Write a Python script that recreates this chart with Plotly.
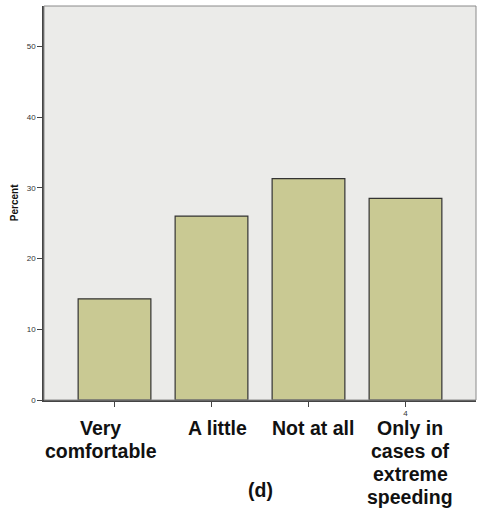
import plotly.graph_objects as go

categories = ["Very<br>comfortable", "A little", "Not at all", "Only in<br>cases of<br>extreme<br>speeding"]
positions = [1, 2, 3, 4]
percent = [14.3, 26.0, 31.3, 28.5]
x_tick_text = ["", "", "", "4"]
y_ticks = [0, 10, 20, 30, 40, 50]

FONT = "Liberation Sans, Arial, sans-serif"
LABEL_XSHIFT = [-14, 6, 4, 5]

fig = go.Figure()
fig.add_trace(go.Bar(
    x=positions, y=percent, width=0.75,
    marker=dict(color="#C9C993", line=dict(color="#333333", width=1.2)),
    hoverinfo="skip",
))

for p, c, dx in zip(positions, categories, LABEL_XSHIFT):
    for i, line in enumerate(c.split("<br>")):
        fig.add_annotation(
            x=p, xref="x", y=0, yref="paper", text="<b>" + line + "</b>", showarrow=False,
            yanchor="middle", xanchor="center", yshift=-(28 + 23 * i), xshift=dx,
            font=dict(family=FONT, size=19.5, color="#111111"),
        )

fig.add_annotation(
    x=2.5, xref="x", y=0, yref="paper", text="<b>(d)</b>", showarrow=False,
    yanchor="middle", xanchor="center", yshift=-90,
    font=dict(family=FONT, size=19.5, color="#111111"),
)

fig.add_annotation(
    x=-0.069, xref="paper", y=0.5, yref="paper", text="<b>Percent</b>", showarrow=False,
    textangle=-90, xanchor="center", yanchor="middle",
    font=dict(family=FONT, size=10, color="#111111"),
)

fig.add_shape(type="rect", xref="paper", yref="paper", x0=0, y0=0, x1=1, y1=1,
              line=dict(color="#8a8a8a", width=1), layer="above")

fig.update_layout(
    width=478, height=508,
    margin=dict(l=44, r=2, t=6, b=108),
    paper_bgcolor="white", plot_bgcolor="#EBEBE9",
    showlegend=False,
    font=dict(family=FONT, color="#222222"),
)
fig.update_xaxes(
    range=[0.273, 4.727], tickvals=positions, ticktext=x_tick_text,
    ticks="outside", ticklen=5, tickcolor="#444444", tickwidth=1,
    tickfont=dict(size=8, color="#333333"),
    showline=True, linecolor="#444444", linewidth=1.5,
    showgrid=False, zeroline=False, fixedrange=True, automargin=False,
)
fig.update_yaxes(
    range=[0, 55.7], tickvals=y_ticks,
    ticks="outside", ticklen=5, tickcolor="#444444", tickwidth=1,
    tickfont=dict(size=8, color="#333333"),
    showline=True, linecolor="#444444", linewidth=1.5,
    showgrid=False, zeroline=False, automargin=False, fixedrange=True,
)

fig.write_html("out.html", config={"displayModeBar": False},
               post_script="document.body.style.margin='0';document.body.style.overflow='hidden';")
